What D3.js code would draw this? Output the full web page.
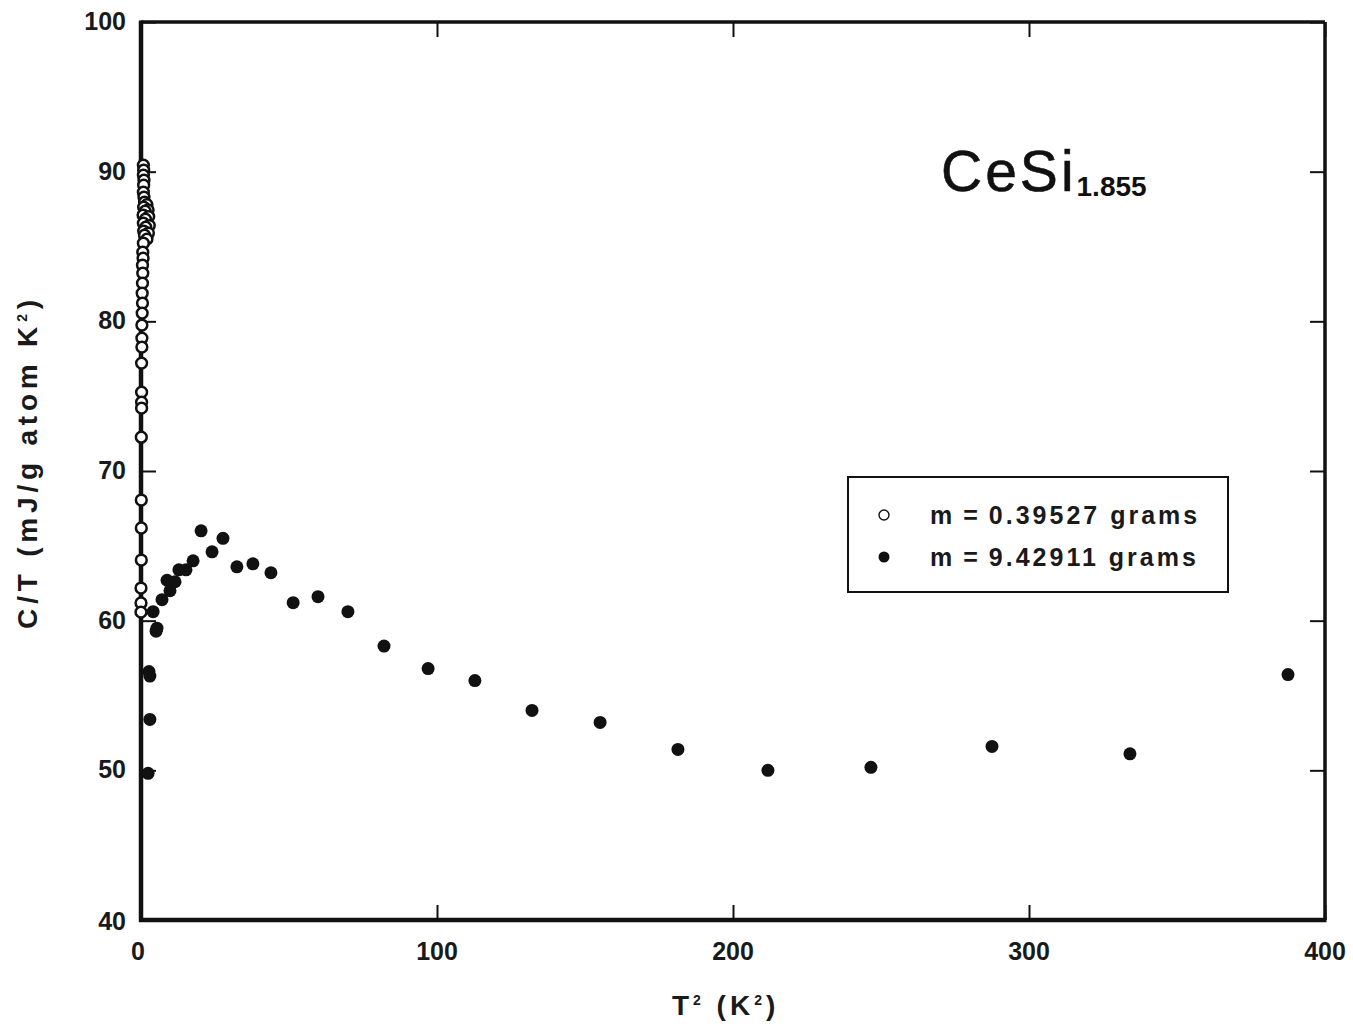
<!DOCTYPE html>
<html>
<head>
<meta charset="utf-8">
<script src="https://cdn.jsdelivr.net/npm/d3@7"></script>
<style>
  html, body { margin: 0; padding: 0; background: #fff; }
  svg { display: block; }
  .tick-label { font-family: "Liberation Sans", Arial, sans-serif; font-weight: bold; font-size: 25px; fill: #1a1a1a; }
  .axis-title { font-family: "Liberation Sans", Arial, sans-serif; font-weight: bold; font-size: 28px; fill: #1a1a1a; }
  .legend-text { font-family: "Liberation Sans", Arial, sans-serif; font-weight: bold; font-size: 25px; fill: #1a1a1a; }
</style>
</head>
<body>
<svg id="chart" width="1353" height="1029"></svg>
<script>
/* ── Data ──────────────────────────────────────────────────────────────── */
const xTicks = [0, 100, 200, 300, 400];
const yTicks = [40, 50, 60, 70, 80, 90, 100];

// m = 0.39527 g (open circles): [T^2, C/T]
const lightSample = [
  [0.8, 90.43], [0.9, 90.10], [0.8, 89.77], [1.0, 89.43], [0.9, 89.10],
  [0.8, 88.63], [1.0, 88.30], [1.2, 87.96], [2.0, 87.80], [0.9, 87.63],
  [2.4, 87.45], [1.4, 87.36], [0.7, 87.10], [2.6, 87.00], [1.5, 86.83],
  [0.8, 86.56], [2.8, 86.40], [1.6, 86.29], [0.9, 86.03], [2.5, 85.90],
  [1.2, 85.76], [2.0, 85.49], [0.8, 85.22], [0.6, 84.62], [0.7, 84.22],
  [0.5, 83.75], [0.6, 83.22], [0.5, 82.55], [0.4, 81.88], [0.5, 81.22],
  [0.4, 80.55], [0.3, 79.75], [0.3, 78.88], [0.3, 78.28], [0.2, 77.21],
  [0.2, 75.27], [0.2, 74.60], [0.2, 74.20], [0.1, 72.26], [0.1, 68.06],
  [0.1, 66.19], [0.1, 64.05], [0.0, 62.18], [0.0, 61.18], [0.0, 60.57]
];

// m = 9.42911 g (filled circles): [T^2, C/T]
const heavySample = [
  [2.4, 49.8], [3.0, 53.4], [2.7, 56.6], [3.0, 56.3], [5.1, 59.3],
  [5.4, 59.5], [4.1, 60.6], [7.1, 61.4], [9.8, 62.0], [8.8, 62.7],
  [11.5, 62.6], [12.8, 63.4], [15.2, 63.4], [17.6, 64.0], [24.0, 64.6],
  [20.3, 66.0], [27.7, 65.5], [32.4, 63.6], [37.8, 63.8], [43.9, 63.2],
  [51.4, 61.2], [59.8, 61.6], [69.9, 60.6], [82.1, 58.3], [97.0, 56.8],
  [112.8, 56.0], [132.1, 54.0], [155.1, 53.2], [181.4, 51.4], [211.8, 50.0],
  [246.6, 50.2], [287.5, 51.6], [334.1, 51.1], [387.5, 56.4]
];

const legendLabels = ['m\u2009=\u20090.39527  grams', 'm\u2009=\u20099.42911  grams'];

/* ── Layout ────────────────────────────────────────────────────────────── */
const M = { top: 22, right: 28, bottom: 109, left: 141 };
const W = 1353 - M.left - M.right;
const H = 1029 - M.top - M.bottom;

const svg = d3.select('#chart');
const g = svg.append('g').attr('transform', `translate(${M.left},${M.top})`);

const x = d3.scaleLinear().domain([0, 400]).range([0, W]);
const y = d3.scaleLinear().domain([40, 100]).range([H, 0]);

const ink = '#111';
const TICK = 15;

/* ── Frame + inward ticks ──────────────────────────────────────────────── */
function styleAxis(sel) {
  sel.select('.domain').remove();
  sel.selectAll('.tick line').attr('stroke', ink).attr('stroke-width', 2);
  sel.selectAll('.tick text').remove();
}

g.append('g').attr('transform', `translate(0,${H})`)
  .call(d3.axisBottom(x).tickValues(xTicks).tickSize(-TICK)).call(styleAxis);
g.append('g')
  .call(d3.axisTop(x).tickValues(xTicks).tickSize(-TICK)).call(styleAxis);
g.append('g')
  .call(d3.axisLeft(y).tickValues(yTicks).tickSize(-TICK)).call(styleAxis);
g.append('g').attr('transform', `translate(${W},0)`)
  .call(d3.axisRight(y).tickValues(yTicks).tickSize(-TICK)).call(styleAxis);

// frame: heavier left/bottom like the original
g.append('line').attr('x1', 0).attr('y1', 0).attr('x2', W).attr('y2', 0)
  .attr('stroke', ink).attr('stroke-width', 3.5);
g.append('line').attr('x1', W).attr('y1', 0).attr('x2', W).attr('y2', H)
  .attr('stroke', ink).attr('stroke-width', 3.5);
g.append('line').attr('x1', 0).attr('y1', -1.5).attr('x2', 0).attr('y2', H + 2)
  .attr('stroke', ink).attr('stroke-width', 4.5);
g.append('line').attr('x1', -2).attr('y1', H).attr('x2', W + 1.5).attr('y2', H)
  .attr('stroke', ink).attr('stroke-width', 4.5);

/* ── Tick labels ───────────────────────────────────────────────────────── */
g.append('g').selectAll('text').data(xTicks).join('text')
  .attr('class', 'tick-label')
  .attr('x', d => x(d) - (d === 0 ? 3 : 0))
  .attr('y', H + 40)
  .attr('text-anchor', 'middle')
  .text(d => d);

g.append('g').selectAll('text').data(yTicks).join('text')
  .attr('class', 'tick-label')
  .attr('x', -15)
  .attr('y', d => y(d) + (d === 40 ? 10 : 8))
  .attr('text-anchor', 'end')
  .text(d => d);

/* ── Axis titles ───────────────────────────────────────────────────────── */
const xt = g.append('text').attr('class', 'axis-title')
  .attr('x', x(197.5)).attr('y', H + 95).attr('text-anchor', 'middle')
  .attr('letter-spacing', 4);
xt.append('tspan').text('T');
xt.append('tspan').attr('dy', -10).attr('font-size', 14).text('2');
xt.append('tspan').attr('dy', 10).text('  (K');
xt.append('tspan').attr('dy', -10).attr('font-size', 14).text('2');
xt.append('tspan').attr('dy', 10).text(')');

const yt = g.append('text').attr('class', 'axis-title')
  .attr('transform', `translate(${-104},${y(70.6)}) rotate(-90)`)
  .attr('text-anchor', 'middle')
  .attr('letter-spacing', 4.8);
yt.append('tspan').text('C/T  (mJ/g  atom  K');
yt.append('tspan').attr('dy', -10).attr('font-size', 14).text('2');
yt.append('tspan').attr('dy', 10).text(')');

/* ── Compound label ────────────────────────────────────────────────────── */
const title = g.append('text')
  .attr('x', 800).attr('y', 169)
  .attr('font-family', '"Liberation Sans", Arial, sans-serif')
  .attr('fill', ink);
title.append('tspan').attr('font-size', 57).attr('letter-spacing', 3)
  .attr('stroke', ink).attr('stroke-width', 0.6).text('CeSi');
title.append('tspan').attr('font-size', 28).attr('font-weight', 'bold')
  .attr('stroke', 'none').attr('dy', 5).text('1.855');

/* ── Points ────────────────────────────────────────────────────────────── */
g.append('g').selectAll('circle').data(heavySample).join('circle')
  .attr('cx', d => x(d[0])).attr('cy', d => y(d[1]))
  .attr('r', 6.5).attr('fill', ink);

g.append('g').selectAll('circle').data(lightSample).join('circle')
  .attr('cx', d => x(d[0])).attr('cy', d => y(d[1]))
  .attr('r', 5.4).attr('fill', '#fff')
  .attr('stroke', ink).attr('stroke-width', 2.5);

/* ── Legend ────────────────────────────────────────────────────────────── */
const lg = g.append('g').attr('transform', `translate(${848 - M.left},${477 - M.top})`);
lg.append('rect').attr('width', 380).attr('height', 115)
  .attr('fill', '#fff').attr('stroke', ink).attr('stroke-width', 2);
lg.append('circle').attr('cx', 36).attr('cy', 38).attr('r', 5)
  .attr('fill', '#fff').attr('stroke', ink).attr('stroke-width', 1.4);
lg.append('circle').attr('cx', 36).attr('cy', 80).attr('r', 5.5)
  .attr('fill', ink);
lg.selectAll('text.legend-text').data(legendLabels).join('text')
  .attr('class', 'legend-text')
  .attr('x', 82).attr('y', (d, i) => 47 + i * 42)
  .attr('letter-spacing', 3)
  .text(d => d);
</script>
</body>
</html>
